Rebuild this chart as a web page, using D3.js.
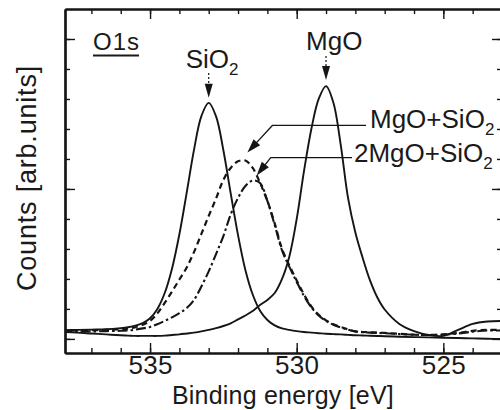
<!DOCTYPE html>
<html>
<head>
<meta charset="utf-8">
<script src="https://cdn.jsdelivr.net/npm/d3@7"></script>
<style>
body { margin: 0; background: #fff; }
svg { display: block; font-family: "Liberation Sans", Arial, Helvetica, sans-serif; }
</style>
</head>
<body>
<svg width="500" height="410"></svg>
<script>
// binding energy grid [eV]
var energy = [538, 537.5, 537, 536.5, 536, 535.75, 535.5, 535.25, 535, 534.75, 534.5, 534.25,
  534, 533.75, 533.5, 533.25, 533, 532.75, 532.5, 532.25, 532, 531.75, 531.5, 531.25,
  531, 530.75, 530.5, 530.25, 530, 529.75, 529.5, 529.25, 529, 528.75, 528.5, 528.25,
  528, 527.75, 527.5, 527.25, 527, 526.5, 526, 525.5, 525, 524.5, 524, 523.5, 523];

// counts (arb. units)
var sio2 = [0.29, 0.30, 0.31, 0.32, 0.36, 0.39, 0.44, 0.53, 0.69, 1.00, 1.53, 2.35,
  3.49, 4.88, 6.31, 7.43, 7.87, 7.42, 6.29, 4.85, 3.46, 2.30, 1.48, 0.94,
  0.63, 0.45, 0.35, 0.30, 0.26, 0.23, 0.21, 0.19, 0.17, 0.16, 0.15, 0.135,
  0.12, 0.114, 0.105, 0.097, 0.09, 0.074, 0.06, 0.05, 0.04, 0.03, 0.016, 0.005, -0.005];

var mgo = [0.23, 0.21, 0.18, 0.15, 0.12, 0.11, 0.10, 0.10, 0.10, 0.10, 0.11, 0.13,
  0.15, 0.18, 0.21, 0.25, 0.30, 0.36, 0.43, 0.52, 0.65, 0.78, 0.93, 1.13,
  1.30, 1.53, 2.0, 2.75, 4.0, 5.6, 7.0, 8.0, 8.43, 7.88, 6.48, 4.7,
  3.55, 2.7, 1.95, 1.38, 0.98, 0.5, 0.26, 0.13, 0.1, 0.3, 0.5, 0.58, 0.6];

var mgoSio2 = [0.27, 0.28, 0.29, 0.30, 0.32, 0.34, 0.39, 0.47, 0.60, 0.85, 1.20, 1.58,
  1.98, 2.38, 2.90, 3.50, 4.10, 4.68, 5.30, 5.70, 5.92, 5.95, 5.70, 5.20,
  4.60, 3.85, 3.00, 2.45, 1.95, 1.48, 1.08, 0.80, 0.62, 0.49, 0.40, 0.32,
  0.25, 0.23, 0.22, 0.21, 0.20, 0.17, 0.14, 0.13, 0.15, 0.20, 0.27, 0.30, 0.30];

var mgo2Sio2 = [0.25, 0.25, 0.25, 0.26, 0.27, 0.28, 0.31, 0.35, 0.40, 0.49, 0.60, 0.72,
  0.86, 1.03, 1.30, 1.75, 2.25, 2.83, 3.43, 4.15, 4.70, 5.10, 5.28, 5.20,
  4.60, 3.80, 2.95, 2.40, 1.90, 1.43, 1.05, 0.78, 0.60, 0.47, 0.38, 0.31,
  0.25, 0.22, 0.21, 0.20, 0.19, 0.16, 0.14, 0.13, 0.14, 0.18, 0.24, 0.28, 0.28];

var xMajor = [535, 530, 525];
var xMinor = [537, 536, 535, 534, 533, 532, 531, 530, 529, 528, 527, 526, 525, 524, 523];
var yMajor = [0, 5, 10];
var yMinor = [0, 1, 2, 3, 4, 5, 6, 7, 8, 9, 10];

var svg = d3.select("svg");
var plotL = 65, plotR = 502, plotT = 9, plotB = 353;

var x = d3.scaleLinear().domain([537.9, 523]).range([plotL, plotR]);
var y = d3.scaleLinear().domain([-0.47, 11]).range([plotB, plotT]);

svg.append("clipPath").attr("id", "clip")
  .append("rect").attr("x", plotL).attr("y", plotT)
  .attr("width", plotR - plotL).attr("height", plotB - plotT);

// curves
var line = d3.line()
  .x(function (d) { return x(d[0]); })
  .y(function (d) { return y(d[1]); })
  .curve(d3.curveCatmullRom.alpha(0.5));

function series(vals) {
  return energy.map(function (e, i) { return [e, vals[i]]; });
}

var curves = svg.append("g").attr("clip-path", "url(#clip)")
  .attr("fill", "none").attr("stroke", "#151515");

curves.append("path").attr("d", line(series(sio2))).attr("stroke-width", 1.9);
curves.append("path").attr("d", line(series(mgo))).attr("stroke-width", 1.9);
curves.append("path").attr("d", line(series(mgoSio2)))
  .attr("stroke-width", 2.2).attr("stroke-dasharray", "6,4");
curves.append("path").attr("d", line(series(mgo2Sio2)))
  .attr("stroke-width", 2.1).attr("stroke-dasharray", "10,3,2.5,3");

// axes / frame with inward ticks
function styleAxis(g) {
  g.select(".domain").attr("stroke", "#151515").attr("stroke-width", 2.2);
  g.selectAll(".tick line").attr("stroke", "#151515").attr("stroke-width", 1.4);
  g.selectAll(".tick text").attr("fill", "#1a1a1a")
    .style("font-size", "26px").style("letter-spacing", "0.3px");
}

svg.append("g").attr("transform", "translate(0," + plotB + ")")
  .call(d3.axisBottom(x).tickValues(xMinor).tickSizeInner(-5).tickSizeOuter(0).tickFormat(""))
  .call(styleAxis);
svg.append("g").attr("transform", "translate(0," + plotB + ")")
  .call(d3.axisBottom(x).tickValues(xMajor).tickSizeInner(-10).tickSizeOuter(0)
    .tickPadding(3).tickFormat(d3.format("d")))
  .call(styleAxis);
svg.append("g").attr("transform", "translate(0," + plotT + ")")
  .call(d3.axisTop(x).tickValues(xMinor).tickSizeInner(-5).tickSizeOuter(0).tickFormat(""))
  .call(styleAxis);
svg.append("g").attr("transform", "translate(0," + plotT + ")")
  .call(d3.axisTop(x).tickValues(xMajor).tickSizeInner(-10).tickSizeOuter(0).tickFormat(""))
  .call(styleAxis);

svg.append("g").attr("transform", "translate(" + plotL + ",0)")
  .call(d3.axisLeft(y).tickValues(yMinor).tickSizeInner(-5).tickSizeOuter(0).tickFormat(""))
  .call(styleAxis);
svg.append("g").attr("transform", "translate(" + plotL + ",0)")
  .call(d3.axisLeft(y).tickValues(yMajor).tickSizeInner(-10).tickSizeOuter(0).tickFormat(""))
  .call(styleAxis);
svg.append("g").attr("transform", "translate(" + plotR + ",0)")
  .call(d3.axisRight(y).tickValues(yMinor).tickSizeInner(-5).tickSizeOuter(0).tickFormat(""))
  .call(styleAxis);
svg.append("g").attr("transform", "translate(" + plotR + ",0)")
  .call(d3.axisRight(y).tickValues(yMajor).tickSizeInner(-10).tickSizeOuter(0).tickFormat(""))
  .call(styleAxis);

// axis titles
svg.append("text")
  .attr("x", 283).attr("y", 404)
  .attr("text-anchor", "middle")
  .style("font-size", "25px").style("letter-spacing", "0.2px").attr("fill", "#1a1a1a")
  .text("Binding energy [eV]");

svg.append("text")
  .attr("transform", "translate(36,178) rotate(-90)")
  .attr("text-anchor", "middle")
  .style("font-size", "27px").style("letter-spacing", "0.8px").attr("fill", "#1a1a1a")
  .text("Counts [arb.units]");

// O1s label with underline
var o1s = svg.append("text")
  .attr("x", 93).attr("y", 50)
  .style("font-size", "24px").style("letter-spacing", "1px").attr("fill", "#1a1a1a")
  .text("O1s");
var o1sW = o1s.node().getComputedTextLength();
svg.append("line")
  .attr("x1", 93).attr("x2", 92 + o1sW)
  .attr("y1", 55.5).attr("y2", 55.5)
  .attr("stroke", "#1a1a1a").attr("stroke-width", 1.8);

// annotation helpers
function arrowHead(tx, ty, fx, fy, len, hw) {
  var dx = tx - fx, dy = ty - fy, L = Math.sqrt(dx * dx + dy * dy);
  var ux = dx / L, uy = dy / L;
  var bx = tx - ux * len, by = ty - uy * len;
  svg.append("path")
    .attr("d", "M" + tx + "," + ty +
      "L" + (bx - uy * hw) + "," + (by + ux * hw) +
      "L" + (bx + uy * hw) + "," + (by - ux * hw) + "Z")
    .attr("fill", "#151515");
}

function label(xp, yp, main, sub) {
  var t = svg.append("text").attr("x", xp).attr("y", yp)
    .style("font-size", "26px").attr("fill", "#1a1a1a");
  t.append("tspan").text(main);
  if (sub) t.append("tspan").attr("dy", 7).style("font-size", "17px").text(sub);
  return t;
}

function peakOf(vals) {
  var i = d3.maxIndex(vals);
  return [x(energy[i]), y(vals[i])];
}

// SiO2 and MgO peak arrows
var pS = peakOf(sio2);
label(pS[0] - 23, 68, "SiO", "2");
svg.append("line").attr("x1", pS[0]).attr("x2", pS[0])
  .attr("y1", 73).attr("y2", pS[1] - 16)
  .attr("stroke", "#151515").attr("stroke-width", 1.2).attr("stroke-dasharray", "2,2");
arrowHead(pS[0], pS[1] - 5, pS[0], 73, 14, 4);

var pM = peakOf(mgo);
label(pM[0] - 20, 50, "MgO");
svg.append("line").attr("x1", pM[0]).attr("x2", pM[0])
  .attr("y1", 56).attr("y2", pM[1] - 17)
  .attr("stroke", "#151515").attr("stroke-width", 1.2).attr("stroke-dasharray", "2,2");
arrowHead(pM[0], pM[1] - 6, pM[0], 56, 14, 4);

// leader lines for the mixtures
var p1 = peakOf(mgoSio2);
var tip1 = [p1[0] + 2, p1[1] - 8], elb1 = [tip1[0] + 25, tip1[1] - 27];
label(370, 128, "MgO+SiO", "2");
svg.append("polyline")
  .attr("points", [[366, elb1[1]], elb1, [tip1[0] + 8, tip1[1] - 8.6]].join(" "))
  .attr("fill", "none").attr("stroke", "#151515").attr("stroke-width", 1.3);
arrowHead(tip1[0], tip1[1], elb1[0], elb1[1], 14, 4.5);

var p2 = peakOf(mgo2Sio2);
var tip2 = [p2[0] + 4, p2[1] - 5], elb2 = [tip2[0] + 14, tip2[1] - 18];
label(354, 162, "2MgO+SiO", "2");
svg.append("polyline")
  .attr("points", [[352, elb2[1]], elb2, [tip2[0] + 6, tip2[1] - 7.7]].join(" "))
  .attr("fill", "none").attr("stroke", "#151515").attr("stroke-width", 1.3);
arrowHead(tip2[0], tip2[1], elb2[0], elb2[1], 14, 4.5);
</script>
</body>
</html>
